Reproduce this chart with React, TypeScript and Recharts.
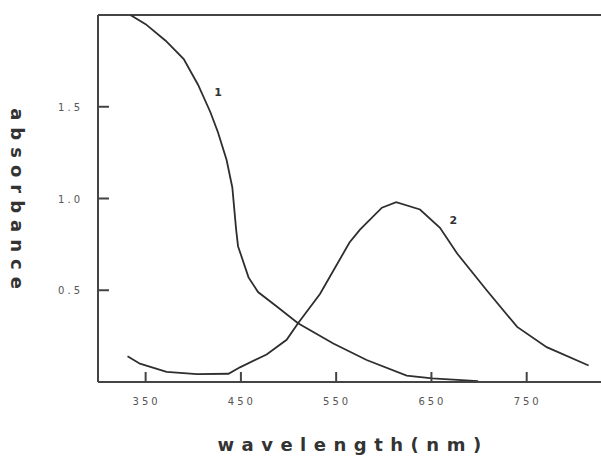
import React from "react";
import { LineChart, Line, XAxis, YAxis, ReferenceLine, ReferenceDot, Label } from "recharts";

const wavelength1 = [334, 350, 371, 390, 405, 418, 426, 435, 441, 445, 447, 458, 468, 488, 510, 547, 582, 624, 651, 699];
const absorbance1 = [2.0, 1.95, 1.86, 1.76, 1.62, 1.47, 1.36, 1.21, 1.06, 0.83, 0.74, 0.57, 0.49, 0.41, 0.32, 0.21, 0.12, 0.035, 0.02, 0.005];

const wavelength2 = [331, 344, 372, 404, 437, 449, 477, 498, 510, 533, 564, 575, 598, 613, 638, 659, 677, 708, 740, 771, 815];
const absorbance2 = [0.14, 0.1, 0.055, 0.043, 0.045, 0.08, 0.15, 0.23, 0.32, 0.48, 0.76, 0.83, 0.95, 0.98, 0.94, 0.84, 0.7, 0.5, 0.3, 0.19, 0.09];

const xTicks = [350, 450, 550, 650, 750];
const yTicks = [0.5, 1.0, 1.5];
const curveLabels = [
  { x: 426, y: 1.58, text: "1" },
  { x: 673, y: 0.88, text: "2" },
];

const series1 = wavelength1.map((w, i) => ({ w, a: absorbance1[i] }));
const series2 = wavelength2.map((w, i) => ({ w, a: absorbance2[i] }));

const tickFont = "'DejaVu Sans', sans-serif";

const XTick = (props: any) => {
  const x = Number(props.x);
  const y = Number(props.y);
  return (
    <g>
      <line x1={x} y1={y} x2={x} y2={y - 10} stroke="#444" strokeWidth={2} />
      <text x={x + 1} y={y + 23} textAnchor="middle" fontSize={10} fill="#555" fontFamily={tickFont} letterSpacing={3}>
        {String(props.payload.value)}
      </text>
    </g>
  );
};

const YTick = (props: any) => {
  const x = Number(props.x);
  const y = Number(props.y);
  return (
    <g>
      <rect x={x} y={y - 1} width={11} height={2} fill="#444" />
      <text x={x - 15} y={y + 4} textAnchor="end" fontSize={10} fill="#555" fontFamily={tickFont} letterSpacing={3}>
        {Number(props.payload.value).toFixed(1)}
      </text>
    </g>
  );
};

export default function App() {
  return (
    <div style={{ position: "absolute", left: 0, top: 0, width: 601, height: 458, background: "#fff" }}>
      <LineChart width={601} height={458} margin={{ top: 15, right: 0, bottom: 0, left: 38 }}>
        <XAxis
          type="number"
          dataKey="w"
          domain={[300, 828]}
          ticks={xTicks}
          tickSize={0}
          tickMargin={0}
          tick={<XTick />}
          axisLine={{ stroke: "#444", strokeWidth: 2 }}
          height={76}
          allowDataOverflow
        >
          <Label
            content={() => (
              <text x={353} y={451} textAnchor="middle" fontSize={18} fontWeight="bold" fill="#333" fontFamily={tickFont} letterSpacing={7.5}>
                wavelength(nm)
              </text>
            )}
          />
        </XAxis>
        <YAxis
          type="number"
          dataKey="a"
          domain={[0, 2]}
          ticks={yTicks}
          tickSize={0}
          tickMargin={0}
          tick={<YTick />}
          axisLine={{ stroke: "#444", strokeWidth: 2 }}
          width={60}
          allowDataOverflow
        >
          <Label
            content={() => (
              <text x={20} y={205} transform="rotate(90 17 199)" textAnchor="middle" fontSize={18} fontWeight="bold" fill="#333" fontFamily={tickFont} letterSpacing={7}>
                absorbance
              </text>
            )}
          />
        </YAxis>
        <ReferenceLine y={2} stroke="#444" strokeWidth={2} ifOverflow="visible" />
        <Line data={series1} dataKey="a" type="linear" stroke="#2e2e2e" strokeWidth={1.8} dot={false} isAnimationActive={false} />
        <Line data={series2} dataKey="a" type="linear" stroke="#2e2e2e" strokeWidth={1.8} dot={false} isAnimationActive={false} />
        {curveLabels.map((c) => (
          <ReferenceDot
            key={c.text}
            x={c.x}
            y={c.y}
            r={0}
            stroke="none"
            fill="none"
            label={{ value: c.text, position: "center", fontSize: 11, fontWeight: "bold", fill: "#333", fontFamily: tickFont }}
          />
        ))}
      </LineChart>
    </div>
  );
}
